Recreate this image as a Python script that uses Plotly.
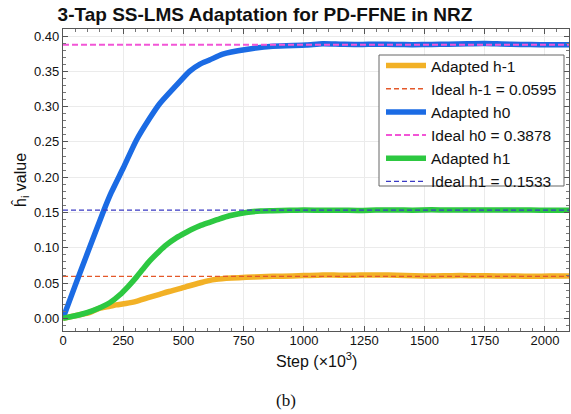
import plotly.graph_objects as go

# Step axis (x10^3) and adapted tap values
steps_hm1 = [0, 69, 110, 150, 194, 221, 260, 304, 350, 401, 440, 484, 512, 567, 600, 636,
             700, 760, 820, 871, 954, 1000, 1078, 1150, 1202, 1271, 1350, 1420, 1500, 1580,
             1650, 1720, 1800, 1880, 1950, 2020, 2100]
h_minus1 = [0.000, 0.005, 0.008, 0.014, 0.017, 0.019, 0.021, 0.024, 0.029, 0.034, 0.038, 0.042,
            0.045, 0.050, 0.053, 0.0553, 0.057, 0.058, 0.059, 0.0595, 0.060, 0.0605, 0.0615,
            0.061, 0.061, 0.0615, 0.0612, 0.0605, 0.0600, 0.0602, 0.0605, 0.0603, 0.0600,
            0.0598, 0.0597, 0.0598, 0.0598]

steps_h0 = [0, 50, 100, 166, 200, 250, 304, 359, 401, 470, 525, 567, 608, 663, 760, 871,
            1009, 1077, 1150, 1230, 1300, 1380, 1450, 1530, 1600, 1680, 1750, 1820, 1900,
            1980, 2050, 2100]
h_0 = [0.000, 0.046, 0.091, 0.150, 0.178, 0.213, 0.252, 0.283, 0.304, 0.330, 0.350, 0.360,
       0.366, 0.3745, 0.381, 0.3857, 0.3873, 0.3890, 0.3885, 0.3880, 0.3885, 0.3882, 0.3878,
       0.3880, 0.3885, 0.3892, 0.3895, 0.3888, 0.3880, 0.3878, 0.3876, 0.3876]

steps_h1 = [0, 69, 124, 160, 194, 235, 270, 304, 330, 359, 400, 429, 470, 512, 540, 567, 608,
            650, 691, 760, 820, 871, 940, 1000, 1080, 1150, 1230, 1300, 1380, 1450, 1530,
            1600, 1680, 1750, 1820, 1900, 1980, 2050, 2100]
h_1 = [0.000, 0.005, 0.011, 0.016, 0.022, 0.033, 0.045, 0.058, 0.069, 0.081, 0.095, 0.104,
       0.114, 0.122, 0.127, 0.131, 0.136, 0.141, 0.1453, 0.150, 0.152, 0.1524, 0.1530,
       0.1535, 0.1530, 0.1532, 0.1528, 0.1534, 0.1536, 0.1533, 0.1537, 0.1535, 0.1534,
       0.1536, 0.1534, 0.1535, 0.1531, 0.1530, 0.1530]

ideal_hm1 = 0.0595
ideal_h0 = 0.3878
ideal_h1 = 0.1533

x_span = [0, 2100]
y_span = [-0.018, 0.41]
x_ticks = [0, 250, 500, 750, 1000, 1250, 1500, 1750, 2000]
y_ticks = [0, 0.05, 0.1, 0.15, 0.2, 0.25, 0.3, 0.35, 0.4]

ORANGE = "#F2B126"
BLUE = "#1B6BE4"
GREEN = "#2DC841"

# plot-area geometry in pixels, used to place paper-anchored items
L, R, T, B, W, H = 63, 2, 29, 83, 571, 414
PW, PH = W - L - R, H - T - B


def px_x(px):
    return (px - L) / PW


def px_y(py):
    return (H - B - py) / PH


fig = go.Figure()

fig.add_trace(go.Scatter(x=steps_hm1, y=h_minus1, mode="lines", name="Adapted h-1",
                         line=dict(color=ORANGE, width=5.5, shape="spline", smoothing=0.6)))
fig.add_trace(go.Scatter(x=x_span, y=[ideal_hm1] * 2, mode="lines",
                         name=f"Ideal h-1 = {ideal_hm1}",
                         line=dict(color="#E4582A", width=1.3, dash="5px,3px")))
fig.add_trace(go.Scatter(x=steps_h0, y=h_0, mode="lines", name="Adapted h0",
                         line=dict(color=BLUE, width=5.5, shape="spline", smoothing=0.6)))
fig.add_trace(go.Scatter(x=x_span, y=[ideal_h0] * 2, mode="lines",
                         name=f"Ideal h0 = {ideal_h0}",
                         line=dict(color="#F255D6", width=2, dash="6px,3px")))
fig.add_trace(go.Scatter(x=steps_h1, y=h_1, mode="lines", name="Adapted h1",
                         line=dict(color=GREEN, width=5.5, shape="spline", smoothing=0.6)))
fig.add_trace(go.Scatter(x=x_span, y=[ideal_h1] * 2, mode="lines",
                         name=f"Ideal h1 = {ideal_h1}",
                         line=dict(color="#3A3AC4", width=1.3, dash="5px,3px")))

axis_font = dict(family="Liberation Sans, Arial, sans-serif", size=13, color="#111")
frame = dict(ticks="inside", ticklen=5, tickcolor="#555", tickfont=axis_font,
             showline=True, linecolor="#555", linewidth=1.2, mirror="ticks",
             showgrid=True, gridcolor="#EBEBEB", gridwidth=1, zeroline=False)

fig.update_layout(
    width=W, height=H,
    margin=dict(l=L, r=R, t=T, b=B),
    paper_bgcolor="white", plot_bgcolor="white",
    font=dict(family="Liberation Sans, Arial, sans-serif", color="#111"),
    title=dict(text="<b>3-Tap SS-LMS Adaptation for PD-FFNE in NRZ</b>",
               x=265 / W, xanchor="center", y=1 - 14 / H, yanchor="middle",
               font=dict(size=19, color="#111")),
    xaxis=dict(range=x_span, tickvals=x_ticks, ticklabelstandoff=-3,
               minor=dict(dtick=50, tick0=0, ticks="inside", ticklen=3, tickcolor="#777",
                          showgrid=False),
               **frame),
    yaxis=dict(range=y_span, tickvals=y_ticks, tickformat=".2f", ticklabelstandoff=0,
               minor=dict(dtick=0.01, tick0=0, ticks="inside", ticklen=3, tickcolor="#777",
                          showgrid=False),
               **frame),
    legend=dict(x=px_x(381), xanchor="left", y=px_y(49), yanchor="top",
                bgcolor="rgba(0,0,0,0)", borderwidth=0,
                font=dict(size=15.5, color="#111"), tracegroupgap=0,
                itemwidth=40),
    showlegend=True,
)

# legend frame
fig.add_shape(type="rect", xref="paper", yref="paper",
              x0=px_x(379), x1=px_x(564), y0=px_y(186), y1=px_y(55),
              line=dict(color="#666", width=1), fillcolor="white", layer="above")

# axis titles
fig.add_annotation(text="ĥ<sub>i</sub> value", xref="paper", yref="paper",
                   x=px_x(21), y=px_y(180), xanchor="center", yanchor="middle",
                   textangle=-90, showarrow=False, font=dict(size=16, color="#111"))
fig.add_annotation(text="Step (×10<sup>3</sup>)", xref="paper", yref="paper",
                   x=px_x(316), y=px_y(360), xanchor="center", yanchor="middle",
                   showarrow=False, font=dict(size=16, color="#111"))

fig.add_annotation(text="(b)", xref="paper", yref="paper", x=px_x(286),
                   y=px_y(400), xanchor="center", yanchor="middle",
                   showarrow=False,
                   font=dict(family="Liberation Serif, Times New Roman, serif", size=17,
                             color="#111"))

fig.write_html("out.html")
